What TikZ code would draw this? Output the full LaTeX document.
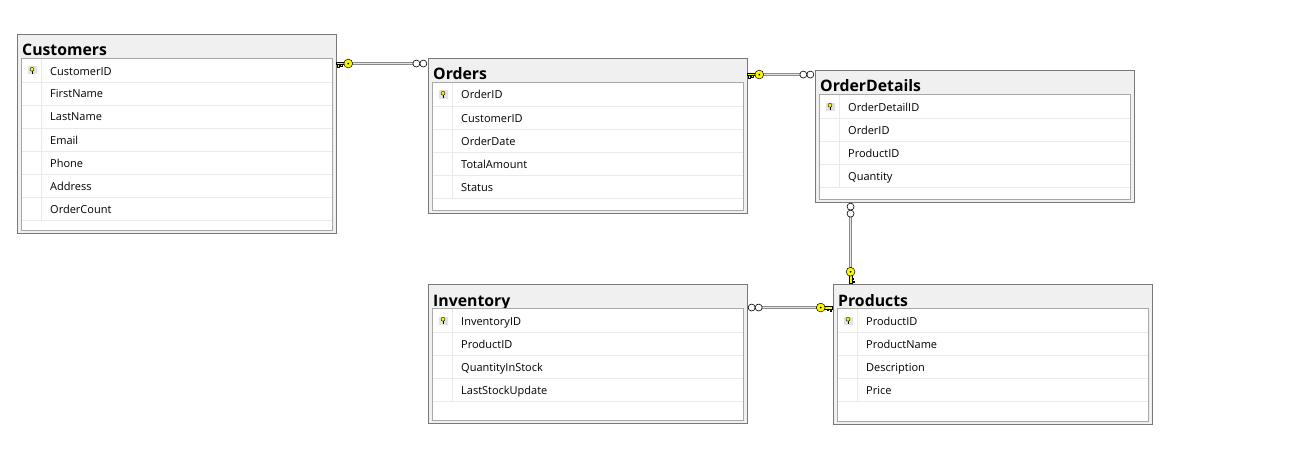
\documentclass[tikz,border=0pt]{standalone}
\usepackage{fontspec}
\setmainfont{Open Sans}
\usetikzlibrary{fit,calc}

\definecolor{framegray}{HTML}{787878}
\definecolor{headgray}{HTML}{F0F0F0}
\definecolor{innergray}{HTML}{A8A8A8}
\definecolor{sepgray}{HTML}{EAEAEA}
\definecolor{keybg}{HTML}{E2E2E2}
\definecolor{keyyellow}{HTML}{F8F800}
\definecolor{linegray}{HTML}{8A8A8A}
\definecolor{linelight}{HTML}{E6E6E6}

\tikzset{
  tablebox/.style={draw=framegray, fill=headgray, line width=0.9pt, inner sep=0pt},
  innerframe/.style={draw=innergray, fill=white, line width=0.7pt},
  rowsep/.style={draw=sepgray, line width=0.8pt},
  tabletitle/.style={inner sep=0pt, font=\bfseries\fontsize{15.8}{18}\selectfont},
  rowtext/.style={inner sep=0pt, font=\fontsize{11}{13}\selectfont},
  keystroke/.style={draw=black, fill=keyyellow, line width=0.5pt},
  circstroke/.style={draw=black, fill=white, line width=0.6pt},
  relline/.style={draw=linegray, line width=0.6pt, double=linelight, double distance=1.1pt},
  % primary-key end of a relationship: table edge at the origin, pointing along +x
  pkkey/.pic={
    \filldraw[keystroke] (0,-1.2) rectangle (8.2,1.2);
    \filldraw[keystroke] (1.2,1.2) rectangle (2.8,3.6);
    \filldraw[keystroke] (4.1,1.2) rectangle (5.7,3.0);
    \filldraw[keystroke] (11.8,0) circle (4.4);
    \fill[black] (11.8,0) circle (1.0);
  },
  % foreign-key (many) end: table edge at the origin, pointing along +x
  manyend/.pic={
    \draw[circstroke] (4.2,0) circle (3.5);
    \draw[circstroke] (11.2,0) circle (3.5);
  }
}

% table: name, left, top, bottom, title, column list
\newcommand\erdtable[6]{%
  \pgfmathsetmacro\tabright{#2+319}%
  \node[tablebox, fit={(#2,#3) (\tabright,#4)}] (#1) {};
  \node[tabletitle, anchor=base west] (#1-title) at (#2+5,#3+22) {#5};
  \draw[innerframe] (#2+4,#3+24) rectangle (\tabright-4,#4-3);
  \foreach \colname [count=\i] in {#6} {
    \pgfmathsetmacro\rowtop{#3+25+23*(\i-1)}
    \draw[rowsep] (#2+4.5,\rowtop+23) -- (\tabright-4.5,\rowtop+23);
    \draw[rowsep] (#2+24,\rowtop) -- (#2+24,\rowtop+23);
    \node[rowtext, anchor=base west] (#1-\i) at (#2+33,\rowtop+16) {\colname};
  }
  % primary key marker on the first column
  \fill[keybg] (#2+10.5,#3+32.5) rectangle (#2+19.5,#3+40.5);
  \draw[black, line width=0.7pt] (#2+15,#3+36.5) -- (#2+15,#3+39.6) (#2+15,#3+38.6) -- (#2+16.4,#3+38.6);
  \filldraw[draw=black, fill=keyyellow, line width=0.35pt] (#2+15,#3+35.2) circle (2.0);
}

\begin{document}
\begin{tikzpicture}[x=1pt, y=-1pt]
  \fill[white] (0,0) rectangle (1315,460);
  \useasboundingbox (0,0) rectangle (1315,460);

  \erdtable{cust}{17}{34}{233}{Customers}{CustomerID,FirstName,LastName,Email,Phone,Address,OrderCount}
  \erdtable{orders}{428}{58}{213}{Orders}{OrderID,CustomerID,OrderDate,TotalAmount,Status}
  \erdtable{od}{815}{70}{202}{OrderDetails}{OrderDetailID,OrderID,ProductID,Quantity}
  \erdtable{inv}{428}{284}{423}{Inventory}{InventoryID,ProductID,QuantityInStock,LastStockUpdate}
  \erdtable{prod}{833}{284}{424}{Products}{ProductID,ProductName,Description,Price}

  % Customers -> Orders
  \coordinate (r1a) at ($(cust.north east)+(0,30)$);
  \coordinate (r1b) at (orders.west |- r1a);
  \draw[relline] ([xshift=16pt]r1a) -- ([xshift=-14.6pt]r1b);
  \pic at (r1a) {pkkey};
  \pic[xscale=-1] at (r1b) {manyend};

  % Orders -> OrderDetails
  \coordinate (r2a) at ($(orders.north east)+(0,17)$);
  \coordinate (r2b) at (od.west |- r2a);
  \draw[relline] ([xshift=16pt]r2a) -- ([xshift=-14.6pt]r2b);
  \pic at (r2a) {pkkey};
  \pic[xscale=-1] at (r2b) {manyend};

  % Products -> OrderDetails
  \coordinate (r3a) at ($(prod.north west)+(18,0)$);
  \coordinate (r3b) at (r3a |- od.south);
  \draw[relline] ([yshift=16pt]r3a) -- ([yshift=-14.6pt]r3b);
  \pic[rotate=90] at (r3a) {pkkey};
  \pic[rotate=-90] at (r3b) {manyend};

  % Products -> Inventory
  \coordinate (r4a) at ($(prod.north west)+(0,24)$);
  \coordinate (r4b) at (inv.east |- r4a);
  \draw[relline] ([xshift=-16pt]r4a) -- ([xshift=14.6pt]r4b);
  \pic[xscale=-1] at (r4a) {pkkey};
  \pic at (r4b) {manyend};
\end{tikzpicture}
\end{document}
